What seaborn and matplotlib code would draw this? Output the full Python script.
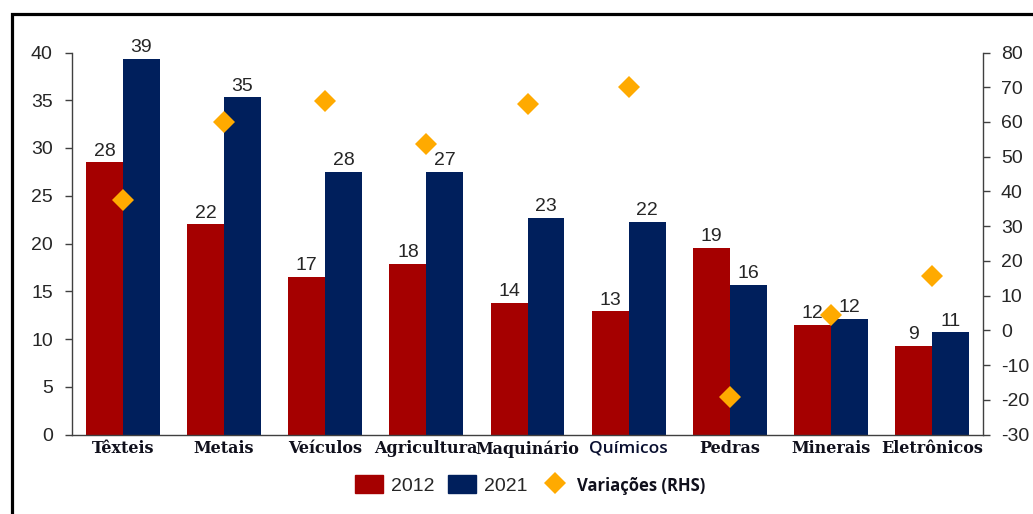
import matplotlib as mpl, numpy as np, pandas as pd
import matplotlib.pyplot as plt
from matplotlib.patches import Patch, Rectangle
from matplotlib.lines import Line2D
import seaborn as sns

sns.set_style('white')
plt.rcParams['font.family'] = ['Liberation Sans', 'DejaVu Sans']
plt.rcParams['axes.unicode_minus'] = False

# Data
categorias = ['Têxteis', 'Metais', 'Veículos', 'Agricultura', 'Maquinário',
              'Químicos', 'Pedras', 'Minerais', 'Eletrônicos']
v2012 = [28.5, 22.0, 16.5, 17.9, 13.8, 12.9, 19.5, 11.5, 9.3]
v2021 = [39.3, 35.3, 27.5, 27.5, 22.7, 22.3, 15.7, 12.1, 10.7]
rot2012 = ['28', '22', '17', '18', '14', '13', '19', '12', '9']
rot2021 = ['39', '35', '28', '27', '23', '22', '16', '12', '11']
variacoes = [37.5, 59.9, 66.1, 53.7, 65.1, 70.2, -19.1, 4.5, 15.5]

red = '#A50000'
navy = '#001F5C'
orange = '#FFAA00'
txt = '#262626'

df = pd.DataFrame({
    'categoria': categorias * 2,
    'ano': ['2012'] * len(categorias) + ['2021'] * len(categorias),
    'valor': v2012 + v2021,
})

fig = plt.figure(figsize=(10.33, 5.14), dpi=100)
ax = fig.add_axes([72.3 / 1033, 1 - 434.5 / 514, (982.7 - 72.3) / 1033, (434.5 - 52.5) / 514])

sns.barplot(data=df, x='categoria', y='valor', hue='ano', order=categorias,
            hue_order=['2012', '2021'], palette={'2012': red, '2021': navy},
            width=0.73, saturation=1, legend=False, linewidth=0, ax=ax)
for cont, rot in zip(ax.containers, [rot2012, rot2021]):
    ax.bar_label(cont, labels=rot, padding=2, fontsize=14, color=txt)

ax.set_ylim(0, 40)
ax.set_yticks(range(0, 41, 5))
ax.set_xlim(-0.5, 8.5)
ax.set_xlabel('')
ax.set_ylabel('')

ax2 = ax.twinx()
sns.pointplot(x=categorias, y=variacoes, ax=ax2, color=orange, marker='D',
              linestyle='none', markersize=11, markeredgewidth=0, errorbar=None)
ax2.set_ylim(-30, 80)
ax2.set_yticks(range(-30, 81, 10))
ax2.set_xlim(-0.5, 8.5)
ax2.set_ylabel('')

# spines and ticks
for a in (ax, ax2):
    for s in a.spines.values():
        s.set_visible(False)
ax.spines['left'].set_visible(True)
ax.spines['bottom'].set_visible(True)
ax2.spines['right'].set_visible(True)
for s in (ax.spines['left'], ax.spines['bottom'], ax2.spines['right']):
    s.set_color('#404040')
    s.set_linewidth(1.0)
ax.tick_params(axis='y', length=5, width=1, color='#404040', pad=9,
               labelsize=14, labelcolor=txt, left=True)
ax2.tick_params(axis='y', length=5, width=1, color='#404040', pad=8,
                labelsize=14, labelcolor=txt, right=True)
ax.tick_params(axis='x', length=0, pad=4)
ax.set_xticks(range(len(categorias)))
ax.set_xticklabels(categorias, fontfamily='DejaVu Serif', fontweight='bold',
                   fontsize=11.5, color='#10101c')
for lab in ax.get_xticklabels():
    if lab.get_text() == 'Químicos':
        lab.set_fontfamily('Open Sans')
        lab.set_fontweight('semibold')
        lab.set_fontsize(12.5)
        lab.set_color('#0a1030')

# legend
handles = [Patch(color=red), Patch(color=navy),
           Line2D([], [], color=orange, marker='D', linestyle='none',
                  markersize=11, markeredgewidth=0)]
leg = fig.legend(handles, ['2012', '2021', 'Variações (RHS)'], loc='center',
                 bbox_to_anchor=(530 / 1033, 1 - 485 / 514), ncol=3,
                 frameon=False, fontsize=14, handlelength=1.45,
                 handleheight=1.05, handletextpad=0.4, columnspacing=0.7)
for t in leg.get_texts():
    t.set_color(txt)
leg.get_texts()[2].set_fontfamily('Open Sans')
leg.get_texts()[2].set_fontweight('bold')
leg.get_texts()[2].set_fontsize(12)
leg.get_texts()[2].set_color('#10101c')

# outer frame (only top and left edges show in the crop)
fig.patches.append(Rectangle((11.5 / 1033, -0.1), 1.2, 1.1 - 14 / 514,
                             transform=fig.transFigure, fill=False,
                             edgecolor='black', linewidth=2.3))

fig.savefig('out.png', dpi=100)
